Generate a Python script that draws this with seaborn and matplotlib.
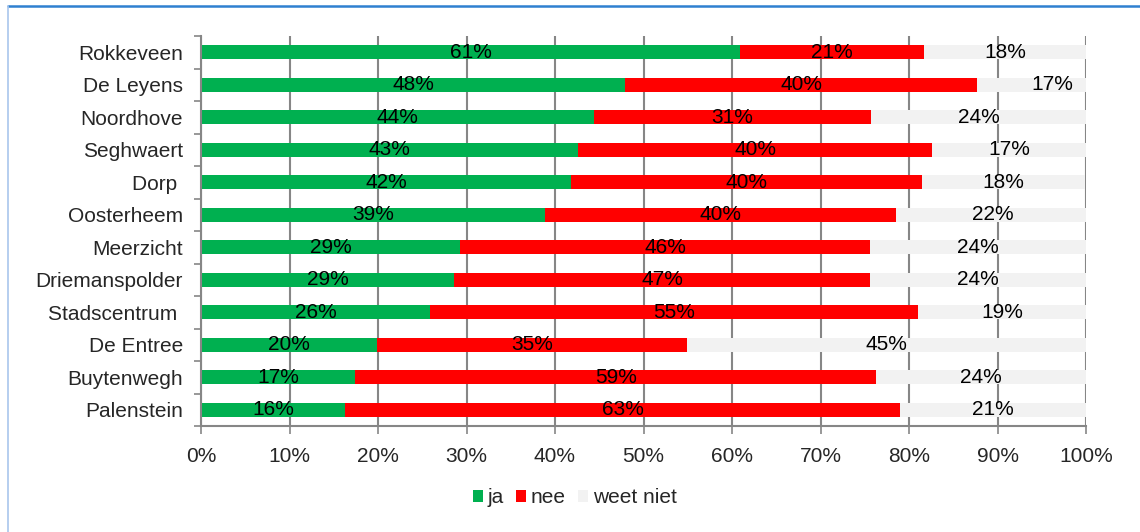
import pandas as pd
import matplotlib.pyplot as plt
import seaborn as sns
from matplotlib.patches import Patch
from matplotlib.lines import Line2D


wijken = ["Rokkeveen", "De Leyens", "Noordhove", "Seghwaert", "Dorp ",
          "Oosterheem", "Meerzicht", "Driemanspolder", "Stadscentrum ",
          "De Entree", "Buytenwegh", "Palenstein"]
ja = [60.9, 47.9, 44.4, 42.6, 41.8, 38.9, 29.3, 28.6, 25.9, 19.9, 17.4, 16.3]
nee = [20.8, 39.8, 31.3, 40.0, 39.7, 39.6, 46.3, 47.0, 55.1, 35.0, 58.9, 62.7]
weet_niet = [18.3, 17.0, 24.3, 17.4, 18.4, 22.0, 24.4, 24.4, 19.0, 45.1, 23.7, 21.0]
series = ["ja", "nee", "weet niet"]
colors = ["#00b050", "#ff0000", "#f2f2f2"]
xticks = [0, 10, 20, 30, 40, 50, 60, 70, 80, 90, 100]

df = pd.DataFrame({"Wijk": wijken, "ja": ja, "nee": nee, "weet niet": weet_niet})
df["cum_nee"] = df["ja"] + df["nee"]
df["cum_wn"] = df["cum_nee"] + df["weet niet"]

sns.set_style("white")
plt.rcParams["font.family"] = ["Liberation Sans", "DejaVu Sans"]
grid_c = "#868686"

fig = plt.figure(figsize=(11.4, 5.32), dpi=100)
ax = fig.add_axes([201 / 1140, 1 - 426 / 532, 885 / 1140, 390 / 532])

# stacked bars: draw totals first, then overlay the shorter parts
for col, c in zip(["cum_wn", "cum_nee", "ja"], colors[::-1]):
    sns.barplot(data=df, x=col, y="Wijk", orient="y", color=c, saturation=1,
                width=0.42, errorbar=None, ax=ax, linewidth=0)

# value labels in the middle of each segment
for i, row in df.iterrows():
    start = 0
    for s in series:
        v = row[s]
        ax.text(start + v / 2, i, f"{v:.0f}%", ha="center", va="center",
                fontsize=15, color="black")
        start += v

ax.set_xlim(0, 100)
ax.set_ylim(len(wijken) - 0.5, -0.5)
ax.set_xticks(xticks)
ax.set_xticklabels([f"{t}%" for t in xticks], fontsize=15)
ax.set_xlabel("")
ax.set_ylabel("")
ax.tick_params(axis="y", which="major", length=0, pad=13, labelsize=15)
ax.set_yticks([i - 0.5 for i in range(len(wijken) + 1)], minor=True)
ax.tick_params(axis="y", which="minor", length=5, width=1.2, color=grid_c, left=True)
ax.tick_params(axis="x", which="major", length=6, width=1.2, color=grid_c,
               bottom=True, pad=9)

ax.set_axisbelow(True)
ax.xaxis.grid(True, color=grid_c, linewidth=1.5)
ax.yaxis.grid(False)
sns.despine(ax=ax, top=True, right=True)
for sp in ["left", "bottom"]:
    ax.spines[sp].set_color(grid_c)
    ax.spines[sp].set_linewidth(1.5)

handles = [Patch(facecolor=c, edgecolor="none") for c in colors]
fig.legend(handles, series, loc="center", bbox_to_anchor=(0.504, 0.064), ncol=3,
           frameon=False, fontsize=15, handlelength=0.5, handleheight=0.5,
           handletextpad=0.2, columnspacing=0.6)

# chart area border (cropped)
fig.add_artist(Line2D([8 / 1140, 1], [1 - 6 / 532] * 2, transform=fig.transFigure,
                      color="#2f80d0", linewidth=1.8))
fig.add_artist(Line2D([8 / 1140] * 2, [0, 1 - 6 / 532], transform=fig.transFigure,
                      color="#a9c6ec", linewidth=1.2))

fig.savefig("out.png", dpi=100)
